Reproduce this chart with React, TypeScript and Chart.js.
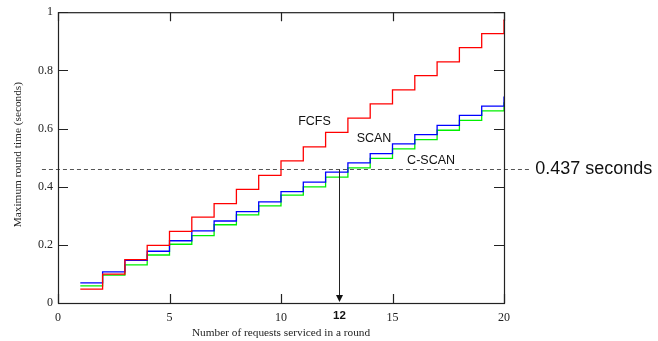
import React, { useEffect, useRef } from "react";
import { Chart, registerables } from "chart.js";

Chart.register(...registerables);

const requests = [1, 2, 3, 4, 5, 6, 7, 8, 9, 10, 11, 12, 13, 14, 15, 16, 17, 18, 19, 20];
const fcfs = [0.048, 0.099, 0.149, 0.198, 0.246, 0.295, 0.342, 0.391, 0.439, 0.489, 0.537, 0.587, 0.636, 0.685, 0.733, 0.782, 0.829, 0.878, 0.926, 0.975];
const scan = [0.069, 0.107, 0.147, 0.178, 0.214, 0.248, 0.282, 0.314, 0.348, 0.383, 0.416, 0.45, 0.482, 0.514, 0.547, 0.579, 0.611, 0.645, 0.677, 0.71];
const cscan = [0.059, 0.096, 0.131, 0.165, 0.202, 0.232, 0.269, 0.303, 0.334, 0.371, 0.399, 0.433, 0.465, 0.497, 0.53, 0.562, 0.594, 0.628, 0.661, 0.69];

const xTicks = [0, 5, 10, 15, 20];
const yTicks = [0, 0.2, 0.4, 0.6, 0.8, 1];
const thresholdY = 0.462;
const thresholdLabel = "0.437 seconds";
const arrowX = 12.6;
const arrowLabel = "12";
const seriesLabels = [
  { text: "FCFS", x: 11.5, y: 0.625 },
  { text: "SCAN", x: 14.17, y: 0.567 },
  { text: "C-SCAN", x: 16.73, y: 0.491 },
];

const serif = "'Liberation Serif', 'DejaVu Serif', serif";
const sans = "'Liberation Sans', Arial, sans-serif";

const decorPlugin = {
  id: "decor",
  afterDatasetsDraw(chart: any) {
    const ctx = chart.ctx as CanvasRenderingContext2D;
    const xs = chart.scales.x;
    const ys = chart.scales.y;
    const { left, right, top, bottom } = chart.chartArea;
    ctx.save();

    // dashed threshold line
    const ty = Math.round(ys.getPixelForValue(thresholdY)) + 0.5;
    ctx.strokeStyle = "#555";
    ctx.lineWidth = 1;
    ctx.setLineDash([4, 3]);
    ctx.beginPath();
    ctx.moveTo(xs.getPixelForValue(-0.72), ty);
    ctx.lineTo(xs.getPixelForValue(21.2), ty);
    ctx.stroke();
    ctx.setLineDash([]);

    // arrow
    const ax = Math.round(xs.getPixelForValue(arrowX)) + 0.5;
    ctx.strokeStyle = "#222";
    ctx.fillStyle = "#111";
    ctx.lineWidth = 1;
    ctx.beginPath();
    ctx.moveTo(ax, ty);
    ctx.lineTo(ax, bottom - 6);
    ctx.stroke();
    ctx.beginPath();
    ctx.moveTo(ax - 3.5, bottom - 8);
    ctx.lineTo(ax + 3.5, bottom - 8);
    ctx.lineTo(ax, bottom - 1);
    ctx.closePath();
    ctx.fill();

    // frame
    ctx.strokeStyle = "#222";
    ctx.lineWidth = 1.2;
    ctx.strokeRect(left + 0.5, top + 0.5, right - left, bottom - top);

    // inner ticks
    ctx.lineWidth = 1.2;
    ctx.beginPath();
    yTicks.forEach((v) => {
      const y = Math.round(ys.getPixelForValue(v)) + 0.5;
      ctx.moveTo(left, y);
      ctx.lineTo(left + 10, y);
      ctx.moveTo(right, y);
      ctx.lineTo(right - 10, y);
    });
    xTicks.forEach((v) => {
      const x = Math.round(xs.getPixelForValue(v)) + 0.5;
      ctx.moveTo(x, bottom);
      ctx.lineTo(x, bottom - 9);
      ctx.moveTo(x, top);
      ctx.lineTo(x, top + 9);
    });
    ctx.stroke();

    // series labels
    ctx.fillStyle = "#111";
    ctx.font = `12.5px ${sans}`;
    ctx.textAlign = "center";
    ctx.textBaseline = "middle";
    seriesLabels.forEach((l) => {
      ctx.fillText(l.text, xs.getPixelForValue(l.x), ys.getPixelForValue(l.y));
    });

    // threshold label
    ctx.font = `18px ${sans}`;
    ctx.textAlign = "left";
    ctx.fillText(thresholdLabel, xs.getPixelForValue(21.4), ty);

    // bold 12 label
    ctx.font = `bold 11.5px ${sans}`;
    ctx.textAlign = "center";
    ctx.fillText(arrowLabel, ax, bottom + 13);

    // axis titles
    ctx.font = `11.3px ${serif}`;
    ctx.fillStyle = "#222";
    ctx.fillText("Number of requests serviced in a round", (left + right) / 2, 333);
    ctx.save();
    ctx.translate(18, (top + bottom) / 2 - 3);
    ctx.rotate(-Math.PI / 2);
    ctx.fillText("Maximum round time (seconds)", 0, 0);
    ctx.restore();

    ctx.restore();
  },
};

export default function App() {
  const ref = useRef<HTMLCanvasElement | null>(null);
  useEffect(() => {
    document.body.style.margin = "0";
    const canvas = ref.current!;
    const mk = (label: string, data: number[], color: string) => ({
      label,
      data: requests.map((x, i) => ({ x, y: data[i] })),
      borderColor: color,
      backgroundColor: color,
      borderWidth: 1.3,
      pointRadius: 0,
      stepped: true as const,
      fill: false,
    });
    const chart = new Chart(canvas, {
      type: "line",
      data: {
        datasets: [mk("FCFS", fcfs, "#ff0000"), mk("SCAN", scan, "#0000ff"), mk("C-SCAN", cscan, "#00f000")],
      },
      options: {
        responsive: false,
        animation: false,
        devicePixelRatio: 1,
        layout: { padding: { top: 10, right: 154, left: 0, bottom: 0 } },
        plugins: { legend: { display: false }, tooltip: { enabled: false } },
        scales: {
          x: {
            type: "linear",
            min: 0,
            max: 20,
            afterBuildTicks: (s: any) => {
              s.ticks = xTicks.map((v) => ({ value: v }));
            },
            afterFit: (s: any) => {
              s.height = 38;
            },
            grid: { display: false, drawTicks: false },
            border: { display: false },
            ticks: {
              padding: 8,
              color: "#222",
              font: { family: serif, size: 12 },
              maxRotation: 0,
              callback: (v: any) => String(+v),
            },
          },
          y: {
            type: "linear",
            min: 0,
            max: 1,
            afterBuildTicks: (s: any) => {
              s.ticks = yTicks.map((v) => ({ value: v }));
            },
            afterFit: (s: any) => {
              s.width = 58;
            },
            grid: { display: false, drawTicks: false },
            border: { display: false },
            ticks: {
              padding: 5,
              color: "#222",
              font: { family: serif, size: 12 },
              callback: (v: any) => String(+v),
            },
          },
        },
      },
      plugins: [decorPlugin],
    });
    return () => chart.destroy();
  }, []);
  return <canvas ref={ref} width={658} height={341} style={{ display: "block" }} />;
}
